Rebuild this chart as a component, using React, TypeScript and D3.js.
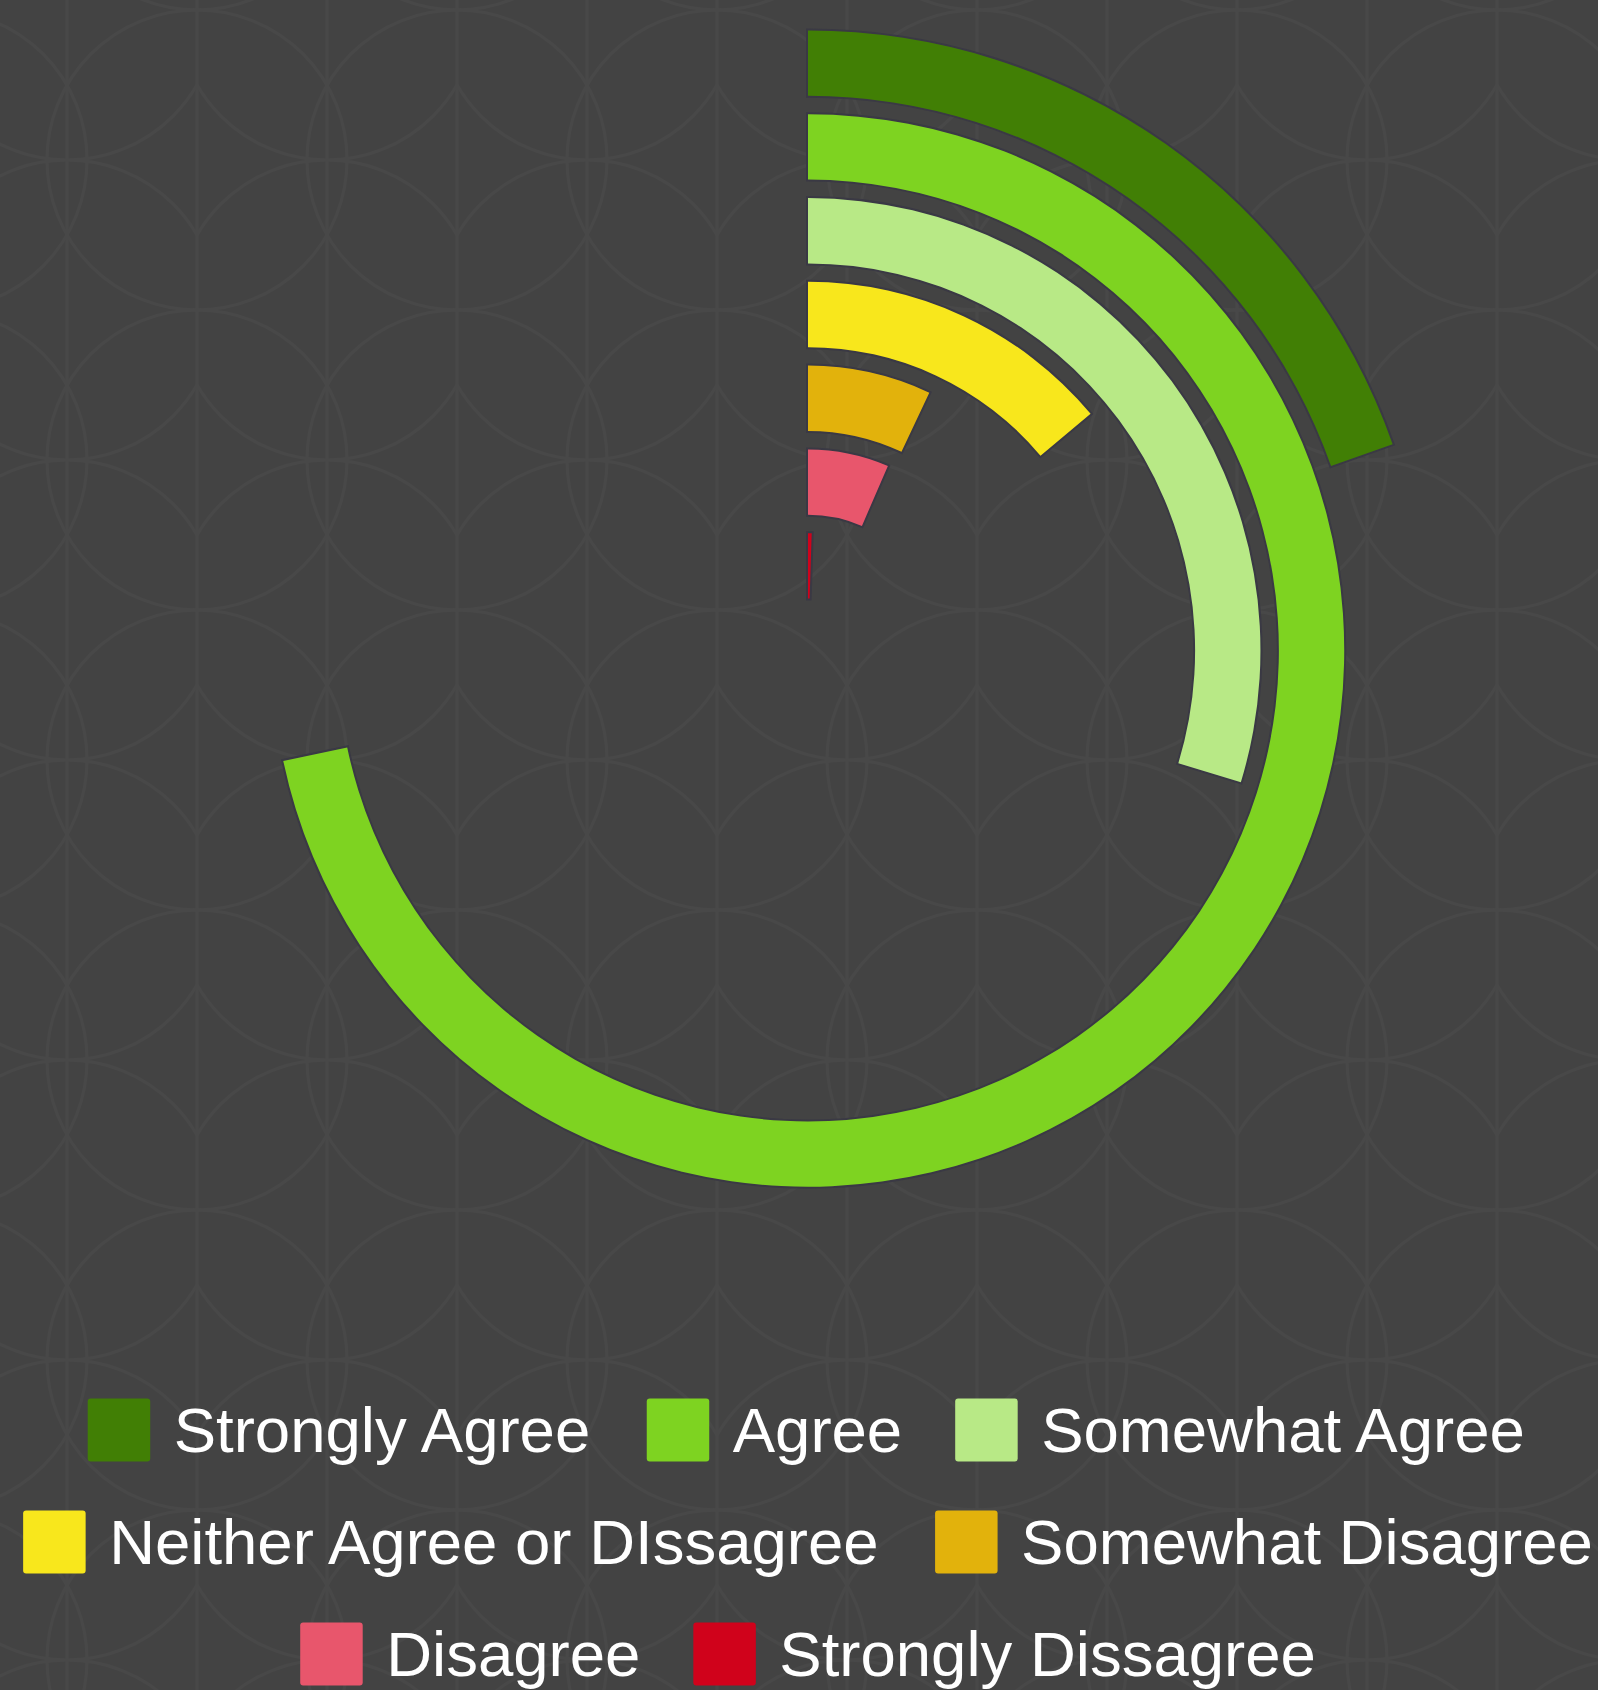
import React, { useMemo } from "react";
import * as d3 from "d3";

// ---- data ----
const categories = [
  "Strongly Agree",
  "Agree",
  "Somewhat Agree",
  "Neither Agree or DIssagree",
  "Somewhat Disagree",
  "Disagree",
  "Strongly Dissagree",
];
// share of a full turn (percent)
const values = [19.6, 71.7, 29.7, 13.9, 7.0, 6.5, 0.5];
const colors = ["#417f05", "#7ed321", "#b8e986", "#f8e71c", "#e2b20c", "#e8566c", "#d0021b"];
const legendRows = [[0, 1, 2], [3, 4], [5, 6]];

const W = 1598;
const H = 1690;
const CX = 808;
const CY = 650.5;
const FONT = "'Liberation Sans', Arial, sans-serif";
const FS = 63.5;

function measure(text: string): number {
  try {
    const c = document.createElement("canvas");
    const ctx = c.getContext("2d");
    if (ctx) {
      ctx.font = `${FS}px 'Liberation Sans', Arial, sans-serif`;
      return ctx.measureText(text).width;
    }
  } catch (e) {}
  return text.length * FS * 0.52;
}

export default function App() {
  const radius = useMemo(
    () =>
      d3
        .scaleBand<string>()
        .domain([...categories].reverse())
        .range([52, 620])
        .paddingInner(0.22)
        .paddingOuter(0),
    []
  );
  const angle = useMemo(() => d3.scaleLinear().domain([0, 100]).range([0, 2 * Math.PI]), []);
  const arc = d3.arc<any>();

  const legend = useMemo(() => {
    const sw = 62.5;
    const swGap = 23.5;
    const itemGap = 53;
    const baselines = [1451.5, 1563.5, 1675.5];
    const items: any[] = [];
    legendRows.forEach((row, ri) => {
      const widths = row.map((i) => sw + swGap + measure(categories[i]));
      const total = d3.sum(widths) + itemGap * (row.length - 1);
      let x = CX - total / 2;
      row.forEach((i, k) => {
        items.push({ i, x, baseline: baselines[ri], sw, swGap });
        x += widths[k] + itemGap;
      });
    });
    return items;
  }, []);

  return (
    <svg
      width={W}
      height={H}
      style={{ position: "absolute", left: 0, top: 0, display: "block" }}
    >
      <defs>
        <pattern id="bgp" width={260} height={300} patternUnits="userSpaceOnUse" x={-63} y={-140}>
          <rect width={260} height={300} fill="#434343" />
          <g fill="none" stroke="#484848" strokeWidth={3}>
            <circle cx={0} cy={0} r={150} />
            <circle cx={260} cy={0} r={150} />
            <circle cx={0} cy={300} r={150} />
            <circle cx={260} cy={300} r={150} />
            <circle cx={130} cy={150} r={150} />
            <line x1={0} y1={0} x2={0} y2={300} />
            <line x1={260} y1={0} x2={260} y2={300} />
            <line x1={130} y1={0} x2={130} y2={300} />
          </g>
        </pattern>
      </defs>
      <rect width={W} height={H} fill="url(#bgp)" />
      <g transform={`translate(${CX},${CY})`}>
        {categories.map((c, i) => (
          <path
            key={c}
            d={
              arc({
                innerRadius: radius(c)!,
                outerRadius: radius(c)! + radius.bandwidth(),
                startAngle: 0,
                endAngle: angle(values[i]),
              }) || ""
            }
            fill={colors[i]}
            stroke="#3a3944"
            strokeWidth={4}
            strokeLinejoin="miter"
            style={{ paintOrder: "stroke" }}
          />
        ))}
      </g>
      <g>
        {legend.map((it) => (
          <g key={it.i}>
            <rect
              x={it.x}
              y={it.baseline - 53}
              width={it.sw}
              height={63}
              rx={3}
              fill={colors[it.i]}
            />
            <text
              x={it.x + it.sw + it.swGap}
              y={it.baseline}
              fill="#ffffff"
              fontFamily={FONT}
              fontSize={FS}
            >
              {categories[it.i]}
            </text>
          </g>
        ))}
      </g>
    </svg>
  );
}
